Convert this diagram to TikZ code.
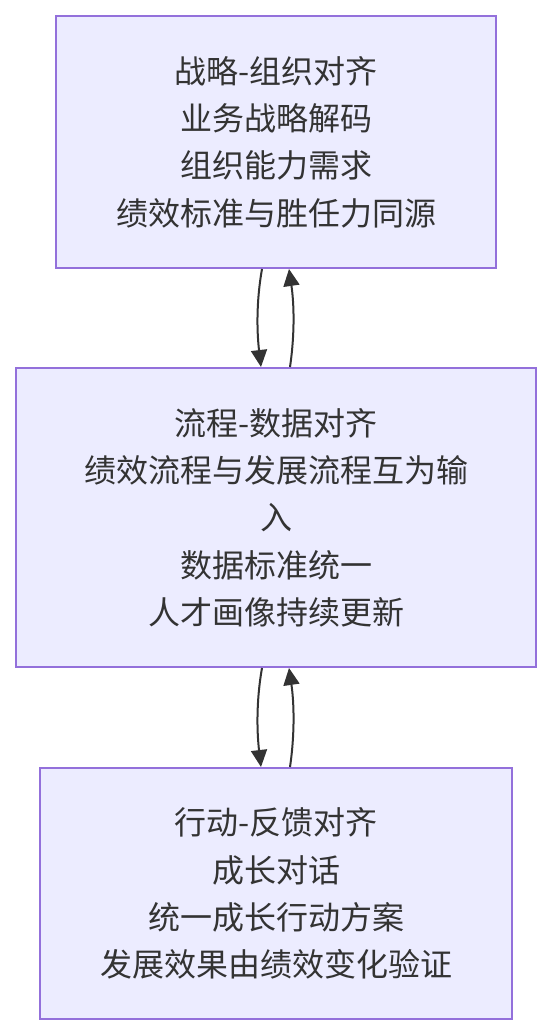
\documentclass[tikz,border=0pt]{standalone}
\usepackage{fontspec}
\newfontfamily\cjk{Noto Sans CJK SC}
\usetikzlibrary{arrows.meta,calc}
\definecolor{boxfill}{HTML}{ECECFF}
\definecolor{boxline}{HTML}{9370DB}
\definecolor{ink}{HTML}{333333}
\begin{document}
\begin{tikzpicture}[x=1pt,y=1pt,
  box/.style={draw=boxline,fill=boxfill,line width=2pt,inner sep=0pt,align=center,
    text=ink,font=\cjk\fontsize{32}{47.3}\selectfont},
  link/.style={draw=ink,line width=2pt,-{Triangle[length=17pt,width=16pt]}}]
\useasboundingbox (0,0) rectangle (552,-1036);
\node[box,minimum width=440pt,minimum height=252pt] (b1) at (276,-142)
  {战略-组织对齐\\业务战略解码\\组织能力需求\\绩效标准与胜任力同源};
\node[box,minimum width=520pt,minimum height=299pt] (b2) at (276,-517.5)
  {流程-数据对齐\\绩效流程与发展流程互为输\\入\\数据标准统一\\人才画像持续更新};
\node[box,minimum width=472pt,minimum height=251pt] (b3) at (276,-893.5)
  {行动-反馈对齐\\成长对话\\统一成长行动方案\\发展效果由绩效变化验证};
\draw[link] ($(b1.south)+(-14,0)$) .. controls ($(b1.south)+(-20,-34)$) and ($(b2.north)+(-19,34)$) .. ($(b2.north)+(-15,0)$);
\draw[link] ($(b2.north)+(14,0)$) .. controls ($(b2.north)+(19,34)$) and ($(b1.south)+(18,-34)$) .. ($(b1.south)+(13,0)$);
\draw[link] ($(b2.south)+(-14,0)$) .. controls ($(b2.south)+(-20,-34)$) and ($(b3.north)+(-19,34)$) .. ($(b3.north)+(-15,0)$);
\draw[link] ($(b3.north)+(14,0)$) .. controls ($(b3.north)+(19,34)$) and ($(b2.south)+(18,-34)$) .. ($(b2.south)+(13,0)$);
\end{tikzpicture}
\end{document}
